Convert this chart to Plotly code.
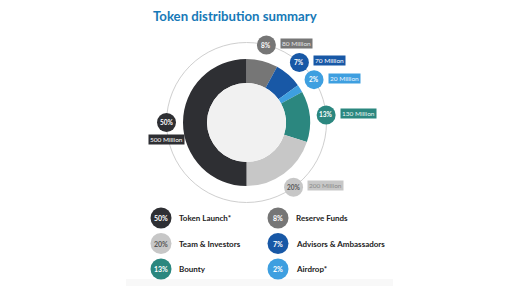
import math
import plotly.graph_objects as go

# ---- data ----
categories = ["Reserve Funds", "Advisors & Ambassadors", "Airdrop*", "Bounty", "Team & Investors", "Token Launch*"]
percents = [8, 7, 2, 13, 20, 50]
amount_labels = ["80 Million", "70 Million", "20 Million", "130 Million", "200 Million", "500 Million"]
colors = ["#767676", "#1858a6", "#3e9fe0", "#2b877f", "#c7c7c7", "#2e2f33"]
pct_text_colors = ["#ffffff", "#ffffff", "#ffffff", "#ffffff", "#555555", "#ffffff"]
box_text_colors = ["#e6e6e6", "#ffffff", "#eaf5ff", "#e8f5f3", "#8a8a8a", "#ffffff"]
legend_order = ["Token Launch*", "Team & Investors", "Bounty", "Reserve Funds", "Advisors & Ambassadors", "Airdrop*"]

W, H = 510, 289
cx, cy = 246.5, 122.5
R_OUT, R_IN, R_RING = 63.5, 39.5, 80

fig = go.Figure()

# overlay pixel-coordinate axes
fig.update_layout(
    xaxis=dict(range=[0, W], visible=False, domain=[0, 1], fixedrange=True),
    yaxis=dict(range=[H, 0], visible=False, domain=[0, 1], fixedrange=True),
)

fig.add_trace(go.Pie(
    labels=categories, values=percents, sort=False, direction="clockwise", rotation=0,
    hole=R_IN / R_OUT, marker=dict(colors=colors, line=dict(width=0)),
    textinfo="none", hoverinfo="label+percent", showlegend=False,
    domain=dict(x=[(cx - R_OUT) / W, (cx + R_OUT) / W],
                y=[1 - (cy + R_OUT) / H, 1 - (cy - R_OUT) / H]),
))

shapes = [
    dict(type="circle", xref="x", yref="y", x0=cx - R_RING, x1=cx + R_RING, y0=cy - R_RING, y1=cy + R_RING,
         line=dict(color="#cfcfcf", width=1), layer="below"),
    dict(type="circle", xref="x", yref="y", x0=cx - R_IN, x1=cx + R_IN, y0=cy - R_IN, y1=cy + R_IN,
         line=dict(width=0), fillcolor="#f1f1f1", layer="above"),
    dict(type="rect", xref="x", yref="y", x0=126, x1=393, y0=279, y1=286,
         line=dict(width=0), fillcolor="#f8f8f8", layer="below"),
]

annotations = []
# callouts on ring at slice midpoints
cum = 0
total = sum(percents)
mx, my = [], []
for i, p in enumerate(percents):
    mid = (cum + p / 2) / total
    cum += p
    ang = 2 * math.pi * mid
    x = cx + R_RING * math.sin(ang)
    y = cy - R_RING * math.cos(ang)
    mx.append(x)
    my.append(y)
    if categories[i] == "Token Launch*":
        ax, ay, xa, ya = x, y + 16.5, "center", "middle"
    else:
        ax, ay, xa, ya = x + 13.5, y - 1.5, "left", "middle"
    annotations.append(dict(x=ax, y=ay, xref="x", yref="y", text=amount_labels[i], showarrow=False,
                            xanchor=xa, yanchor=ya, bgcolor=colors[i], borderpad=1,
                            font=dict(family="Lato", size=6.5, color=box_text_colors[i])))
    annotations.append(dict(x=x, y=y, xref="x", yref="y", text="<b>%d%%</b>" % p, showarrow=False,
                            font=dict(family="Lato", size=6.5, color=pct_text_colors[i])))

fig.add_trace(go.Scatter(x=mx, y=my, mode="markers", hoverinfo="skip", showlegend=False,
                         marker=dict(size=19, color=colors, line=dict(width=0))))

# custom legend
lx, ly, lc = [], [], []
for k, name in enumerate(legend_order):
    i = categories.index(name)
    col, row = divmod(k, 3)
    x = 161 + col * 117
    y = 218 + row * 25.5
    lx.append(x)
    ly.append(y)
    lc.append(colors[i])
    annotations.append(dict(x=x, y=y, xref="x", yref="y", text="<b>%d%%</b>" % percents[i], showarrow=False,
                            font=dict(family="Lato", size=7, color=pct_text_colors[i])))
    annotations.append(dict(x=x + 15.5, y=y, xref="x", yref="y", text="<b>%s</b>" % name, showarrow=False,
                            xanchor="left", font=dict(family="Lato", size=8, color="#222222")))

fig.add_trace(go.Scatter(x=lx, y=ly, mode="markers", hoverinfo="skip", showlegend=False,
                         marker=dict(size=21, color=lc, line=dict(width=0))))

# title
annotations.append(dict(x=151, y=16, xref="x", yref="y", text="<b>Token distribution summary</b>",
                        showarrow=False, xanchor="left", yanchor="middle",
                        font=dict(family="Lato", size=13.2, color="#1779b7")))

fig.update_layout(width=W, height=H, margin=dict(l=0, r=0, t=0, b=0),
                  paper_bgcolor="white", plot_bgcolor="rgba(0,0,0,0)",
                  shapes=shapes, annotations=annotations)

fig.write_html("out.html", config={"displayModeBar": False})
